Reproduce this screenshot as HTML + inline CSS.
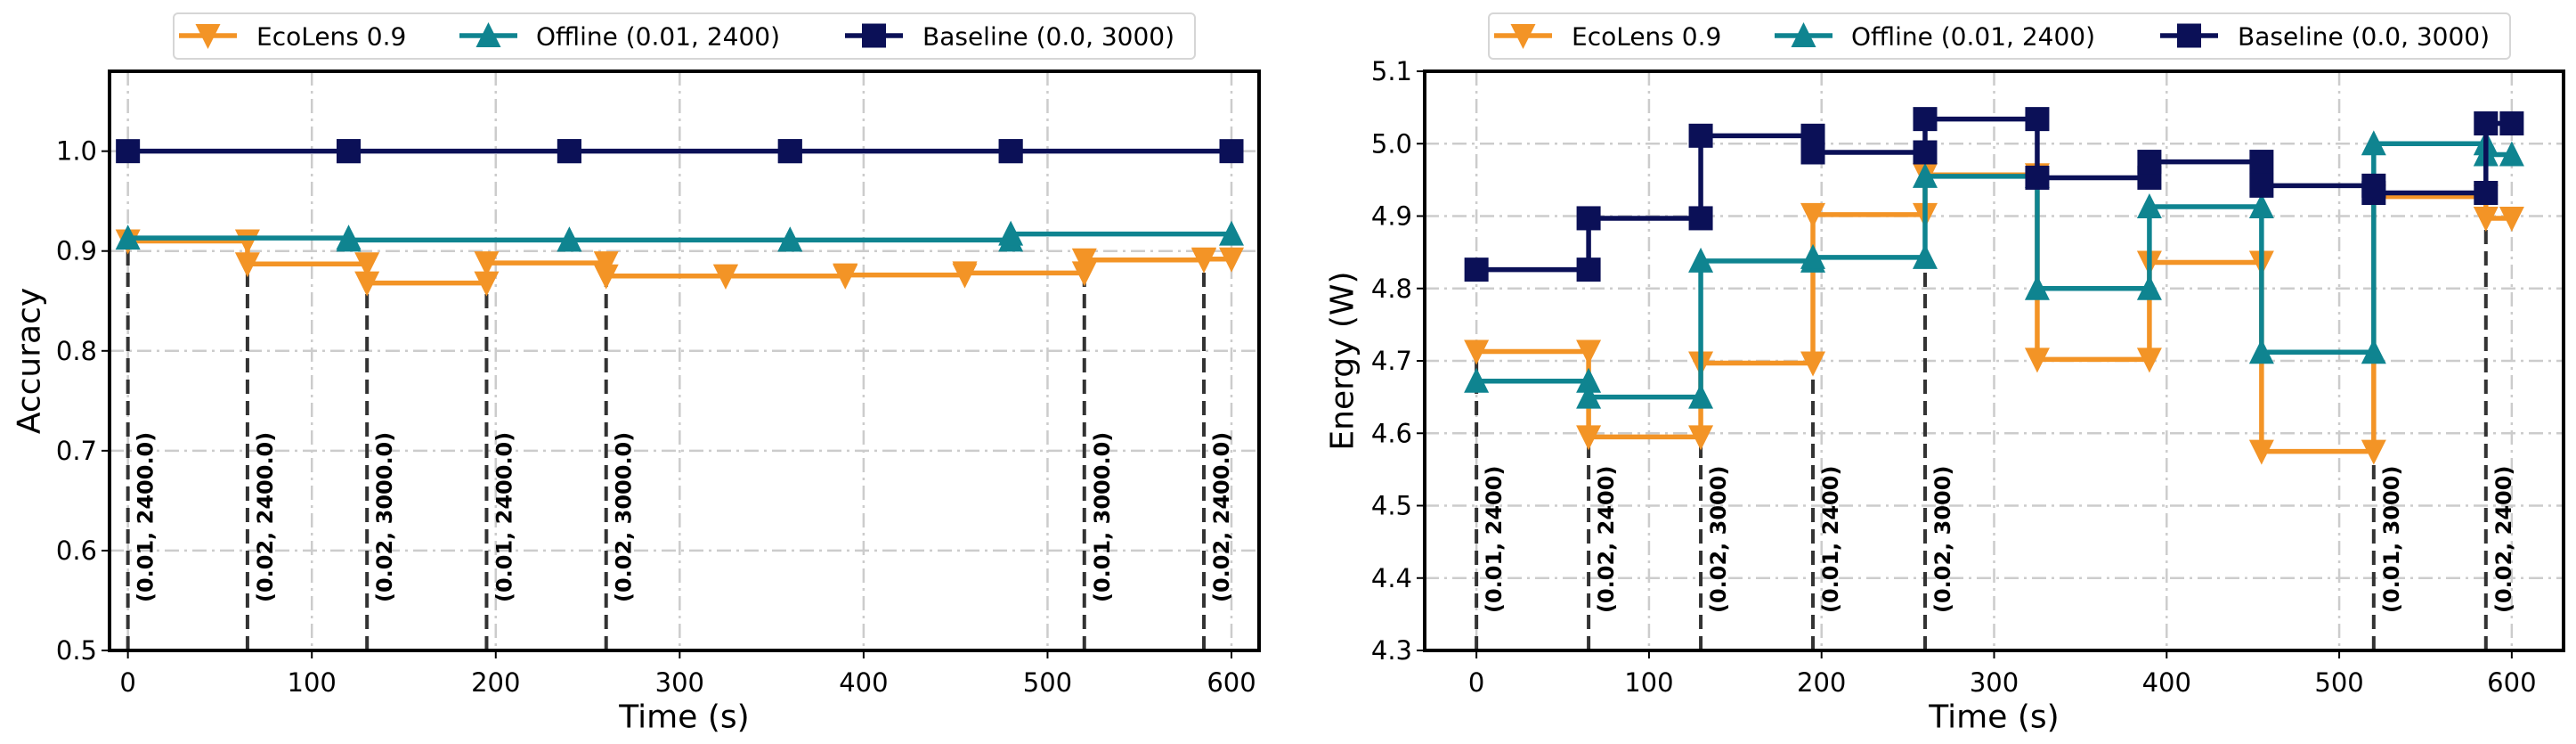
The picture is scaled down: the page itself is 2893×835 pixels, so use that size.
<!DOCTYPE html>
<html><head><meta charset="utf-8">
<style>
html,body{margin:0;padding:0;background:#fff;}
svg{display:block;font-family:"DejaVu Sans","Liberation Sans",sans-serif;}
</style></head>
<body>
<svg id="chart" width="2893" height="835" viewBox="0 0 2893 835" xmlns="http://www.w3.org/2000/svg"></svg>
<script>
// ---------- data ----------
const accEcoTimes = [0,65,130,195,260,325,390,455,520,585,600];
const accEcoValues = [0.910,0.887,0.868,0.888,0.875,0.875,0.876,0.878,0.891,0.892];
const accOffTimes = [0,120,240,360,480,600];
const accOffValues = [0.913,0.911,0.911,0.911,0.917];
const accBaseTimes = [0,120,240,360,480,600];
const accBaseValues = [1.0,1.0,1.0,1.0,1.0];
const accLabels = ["(0.01, 2400.0)","(0.02, 2400.0)","(0.02, 3000.0)","(0.01, 2400.0)","(0.02, 3000.0)","(0.01, 3000.0)","(0.02, 2400.0)"];
const enLabels = ["(0.01, 2400)","(0.02, 2400)","(0.02, 3000)","(0.01, 2400)","(0.02, 3000)","(0.01, 3000)","(0.02, 2400)"];
const switchTimes = [0,65,130,195,260,520,585];

const enEcoTimes = [0,65,130,195,260,325,390,455,520,585,600];
const enEcoValues = [4.713,4.595,4.697,4.902,4.957,4.702,4.836,4.575,4.927,4.897];
const enOffTimes = [0,65,130,195,260,325,390,455,520,585,600];
const enOffValues = [4.672,4.650,4.838,4.843,4.955,4.800,4.913,4.712,5.000,4.985];
const enBaseTimes = [0,65,130,195,260,325,390,455,520,585,600];
const enBaseValues = [4.826,4.897,5.011,4.988,5.034,4.953,4.975,4.942,4.932,5.028];

const xTicks = [0,100,200,300,400,500,600];
const accYTicks = [0.5,0.6,0.7,0.8,0.9,1.0];
const enYTicks = [4.3,4.4,4.5,4.6,4.7,4.8,4.9,5.0,5.1];
const legendNames = ["EcoLens 0.9","Offline (0.01, 2400)","Baseline (0.0, 3000)"];

// ---------- helpers ----------
const NS = "http://www.w3.org/2000/svg";
const svg = document.getElementById('chart');
const ORANGE = "#F39426", TEAL = "#0F8490", NAVY = "#0B1057";
function mk(tag, attrs, parent){
  const e = document.createElementNS(NS, tag);
  for (const k in attrs) e.setAttribute(k, attrs[k]);
  (parent||svg).appendChild(e);
  return e;
}
function marker(kind, cx, cy, color, g){
  let e;
  if (kind==='down'){
    e = mk('polygon',{points:`${cx-14},${cy-13} ${cx+14},${cy-13} ${cx},${cy+15}`,fill:color},g);
  } else if (kind==='up'){
    e = mk('polygon',{points:`${cx-14},${cy+13} ${cx+14},${cy+13} ${cx},${cy-15}`,fill:color},g);
  } else {
    e = mk('rect',{x:cx-13.5,y:cy-13.5,width:27,height:27,fill:color},g);
  }
  return e;
}

function drawPanel(cfg){
  const {L,R,T,B,xmin,xmax,ymin,ymax} = cfg;
  const X = t => L + (t - xmin) / (xmax - xmin) * (R - L);
  const Y = v => B - (v - ymin) / (ymax - ymin) * (B - T);
  const g = mk('g',{});
  
  
  cfg.yTicks.forEach(v=>{
    const l = mk('line',{x1:L,x2:R,y1:Y(v),y2:Y(v),stroke:'#cccccc','stroke-width':2.5,'stroke-dasharray':'16,6,3,6'},g);
    
    
  });
  xTicks.forEach(t=>{
    const l = mk('line',{x1:X(t),x2:X(t),y1:T,y2:B,stroke:'#cccccc','stroke-width':2.5,'stroke-dasharray':'16,6,3,6'},g);
    
    
  });
  switchTimes.forEach((t,i)=>{
    const idx = cfg.eco.times.indexOf(t);
    const v = cfg.eco.values[Math.min(idx, cfg.eco.values.length-1)];
    const l = mk('line',{x1:X(t),x2:X(t),y1:B,y2:Y(v),stroke:'#333333','stroke-width':4,'stroke-dasharray':'16,8'},g);
    
    
    const tx = X(t)+20, ty = cfg.labelBottom;
    const txt = mk('text',{x:tx,y:ty,transform:`rotate(-90 ${tx} ${ty})`,'font-size':24,'font-weight':'bold','dominant-baseline':'central',fill:'#000'},g);
    txt.textContent = cfg.labels[i];
    
    
  });
  [cfg.eco, cfg.off, cfg.base].forEach(s=>{
    const sg = mk('g',{},g);
    
    
    let d = '';
    for (let i=0;i<s.values.length;i++){
      const x1 = X(s.times[i]), x2 = X(s.times[i+1]), y = Y(s.values[i]);
      d += (i===0 ? `M${x1},${y}` : `L${x1},${y}`) + `L${x2},${y}`;
    }
    const p = mk('path',{d:d,fill:'none',stroke:s.color,'stroke-width':5.5,'stroke-linejoin':'miter'},sg);
    
    
    for (let i=0;i<s.values.length;i++){
      const y = Y(s.values[i]);
      const m1 = marker(s.kind, X(s.times[i]), y, s.color, sg);
      
      
      const m2 = marker(s.kind, X(s.times[i+1]), y, s.color, sg);
      
      
    }
  });
  const fr = mk('rect',{x:L,y:T,width:R-L,height:B-T,fill:'none',stroke:'#000','stroke-width':4},g);
  
  
  xTicks.forEach(t=>{
    const tk = mk('line',{x1:X(t),x2:X(t),y1:B,y2:B+9,stroke:'#000','stroke-width':2},g);
    
    
    const tl = mk('text',{x:X(t),y:B+36,'font-size':29,'text-anchor':'middle','dominant-baseline':'central',fill:'#000'},g);
    tl.textContent = String(t);
    
    
  });
  cfg.yTicks.forEach(v=>{
    const tk = mk('line',{x1:L-9,x2:L,y1:Y(v),y2:Y(v),stroke:'#000','stroke-width':2},g);
    
    
    const tl = mk('text',{x:L-14,y:Y(v),'font-size':29,'text-anchor':'end','dominant-baseline':'central',fill:'#000'},g);
    tl.textContent = v.toFixed(1);
    
    
  });
  const xt = mk('text',{x:(L+R)/2,y:805,'font-size':36,'text-anchor':'middle','dominant-baseline':'central',fill:'#000'},g);
  xt.textContent = 'Time (s)';
  
  
  const yx = cfg.ytitleX, yy = (T+B)/2;
  const yt = mk('text',{x:yx,y:yy,transform:`rotate(-90 ${yx} ${yy})`,'font-size':36,'text-anchor':'middle','dominant-baseline':'central',fill:'#000'},g);
  yt.textContent = cfg.ytitle;
  
  
  const lg = mk('g',{},g);
  
  
  const o = cfg.legendX;
  const box = mk('rect',{x:o,y:15,width:1147,height:51,rx:5,fill:'#fff',stroke:'#d6d6d6','stroke-width':2},lg);
  
  
  const items = [[6,93,ORANGE,'down'],[321,407,TEAL,'up'],[754,841,NAVY,'sq']];
  items.forEach((it,i)=>{
    const ln = mk('line',{x1:o+it[0],x2:o+it[0]+65,y1:40,y2:40,stroke:it[2],'stroke-width':5.5},lg);
    
    
    const mm = marker(it[3], o+it[0]+32.5, 40, it[2], lg);
    
    
    const tt = mk('text',{x:o+it[1],y:41,'font-size':28,'dominant-baseline':'central',fill:'#000'},lg);
    tt.textContent = legendNames[i];
    
    
  });
}

drawPanel({name:'accuracy-panel',L:123,R:1414,T:80,B:730,xmin:-10,xmax:615,ymin:0.5,ymax:1.08,
  yTicks:accYTicks,labels:accLabels,labelBottom:676,ytitle:'Accuracy',ytitleX:33,legendX:195,
  eco:{name:'ecolens-accuracy',times:accEcoTimes,values:accEcoValues,color:ORANGE,kind:'down'},
  off:{name:'offline-accuracy',times:accOffTimes,values:accOffValues,color:TEAL,kind:'up'},
  base:{name:'baseline-accuracy',times:accBaseTimes,values:accBaseValues,color:NAVY,kind:'sq'}});

drawPanel({name:'energy-panel',L:1600,R:2879,T:80,B:730,xmin:-30,xmax:630,ymin:4.3,ymax:5.1,
  yTicks:enYTicks,labels:enLabels,labelBottom:688,ytitle:'Energy (W)',ytitleX:1508,legendX:1672,
  eco:{name:'ecolens-energy',times:enEcoTimes,values:enEcoValues,color:ORANGE,kind:'down'},
  off:{name:'offline-energy',times:enOffTimes,values:enOffValues,color:TEAL,kind:'up'},
  base:{name:'baseline-energy',times:enBaseTimes,values:enBaseValues,color:NAVY,kind:'sq'}});
</script>
</body></html>
